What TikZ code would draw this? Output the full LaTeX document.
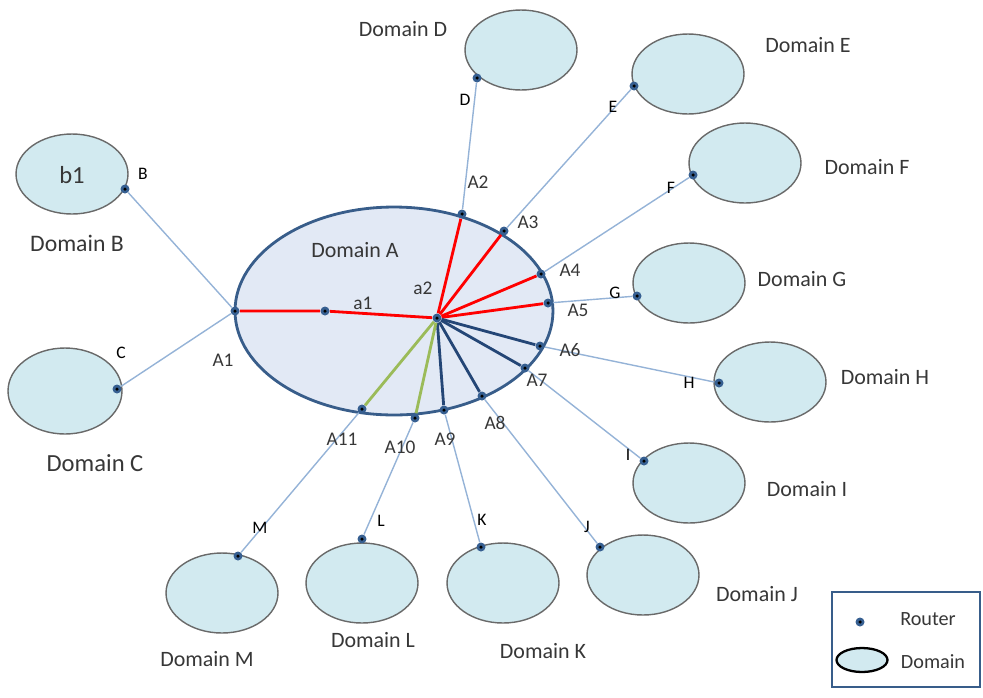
\documentclass[tikz,border=0pt]{standalone}
\usepackage{fontspec}
\setmainfont{Carlito}
\usetikzlibrary{shapes.geometric}

\definecolor{domfill}{RGB}{210,234,240}
\definecolor{domline}{RGB}{105,105,105}
\definecolor{afill}{RGB}{226,233,245}
\definecolor{aline}{RGB}{56,93,138}
\definecolor{linkblue}{RGB}{149,179,215}
\definecolor{routerblue}{RGB}{54,95,145}
\definecolor{darklink}{RGB}{36,70,118}
\definecolor{greenlink}{RGB}{155,187,89}
\definecolor{textgray}{RGB}{55,55,55}

\tikzset{
  dombox/.style={ellipse, draw=domline, fill=domfill, line width=0.8pt,
    minimum width=2.24cm, minimum height=1.6cm, inner sep=0pt},
  router/.style={circle, fill=routerblue, inner sep=0pt, minimum size=0.18cm,
    path picture={\fill[black] (path picture bounding box.center) circle (0.035cm);}},
  uplink/.style={draw=linkblue, line width=0.8pt},
  redlink/.style={draw=red, line width=1.6pt},
  bluelink/.style={draw=darklink, line width=1.6pt},
  greenlink/.style={draw=greenlink, line width=1.6pt},
  lbl/.style={font=\fontsize{11}{12}\selectfont, text=textgray, inner sep=0pt},
  letter/.style={font=\fontsize{10}{11}\selectfont, text=black, inner sep=0pt},
  domname/.style={font=\fontsize{12.5}{14}\selectfont, text=textgray, inner sep=0pt}
}

\begin{document}
\begin{tikzpicture}[x=0.02cm, y=-0.02cm]
  \useasboundingbox (0,0) rectangle (983,697);

  % domains
  \node[ellipse, draw=aline, fill=afill, line width=1.6pt, minimum width=6.36cm,
    minimum height=4.16cm, inner sep=0pt] (dA) at (394,311) {};
  \node[dombox] (dB) at (72,174) {};
  \node[dombox, minimum width=2.28cm, minimum height=1.72cm] (dC) at (65,391) {};
  \node[dombox] (dD) at (521,50) {};
  \node[dombox] (dE) at (688,74) {};
  \node[dombox] (dF) at (745,163) {};
  \node[dombox] (dG) at (689,283) {};
  \node[dombox] (dH) at (770,382) {};
  \node[dombox] (dI) at (689,483) {};
  \node[dombox] (dJ) at (643,575) {};
  \node[dombox] (dK) at (503,583) {};
  \node[dombox] (dL) at (362,583) {};
  \node[dombox] (dM) at (222,593) {};

  % routers of domain A
  \node[router] (A1) at (235,311) {};
  \node[router] (a1) at (325,311) {};
  \node[router] (a2) at (437,318) {};
  \node[router] (A2) at (462,214) {};
  \node[router] (A3) at (504,231) {};
  \node[router] (A4) at (541,274) {};
  \node[router] (A5) at (548,303) {};
  \node[router] (A6) at (540,346) {};
  \node[router] (A7) at (525,368) {};
  \node[router] (A8) at (482,396) {};
  \node[router] (A9) at (444,410) {};
  \node[router] (A10) at (415,418) {};
  \node[router] (A11) at (362,409) {};

  % border routers of the other domains
  \node[router] (rB) at (125,189) {};
  \node[router] (rC) at (117,389) {};
  \node[router] (rD) at (477,78) {};
  \node[router] (rE) at (634,86) {};
  \node[router] (rF) at (693,175) {};
  \node[router] (rG) at (637,296) {};
  \node[router] (rH) at (719,383) {};
  \node[router] (rI) at (644,461) {};
  \node[router] (rJ) at (600,547) {};
  \node[router] (rK) at (481,547) {};
  \node[router] (rL) at (362,539) {};
  \node[router] (rM) at (238,556) {};

  % inter-domain links
  \draw[uplink] (A1) -- (rB);
  \draw[uplink] (A1) -- (rC);
  \draw[uplink] (A2) -- (rD);
  \draw[uplink] (A3) -- (rE);
  \draw[uplink] (A4) -- (rF);
  \draw[uplink] (A5) -- (rG);
  \draw[uplink] (A6) -- (rH);
  \draw[uplink] (A7) -- (rI);
  \draw[uplink] (A8) -- (rJ);
  \draw[uplink] (A9) -- (rK);
  \draw[uplink] (A10) -- (rL);
  \draw[uplink] (A11) -- (rM);

  % paths inside domain A
  \draw[redlink] (A1) -- (a1) -- (a2);
  \foreach \r in {A2,A3,A4,A5} \draw[redlink] (a2) -- (\r);
  \foreach \r in {A6,A7,A8,A9} \draw[bluelink] (a2) -- (\r);
  \foreach \r in {A10,A11} \draw[greenlink] (a2) -- (\r);

  % router labels
  \node[lbl] (lA1) at (223,360) {A1};
  \node[lbl] (lA2) at (478,182) {A2};
  \node[lbl] (lA3) at (528,222) {A3};
  \node[lbl] (lA4) at (570,270) {A4};
  \node[lbl] (lA5) at (578,310) {A5};
  \node[lbl] (lA6) at (570,350) {A6};
  \node[lbl] (lA7) at (537,380) {A7};
  \node[lbl] (lA8) at (495,423) {A8};
  \node[lbl] (lA9) at (445,439) {A9};
  \node[lbl] (lA10) at (400,447) {A10};
  \node[lbl] (lA11) at (342,439) {A11};
  \node[lbl] (la1) at (363,303) {a1};
  \node[lbl] (la2) at (423,288) {a2};
  \node[letter] (lB) at (143,174) {B};
  \node[letter] (lC) at (121,353) {C};
  \node[letter] (lD) at (465,100) {D};
  \node[letter] (lE) at (613,107) {E};
  \node[letter] (lF) at (671,188) {F};
  \node[letter] (lG) at (615,293) {G};
  \node[letter] (lH) at (689,383) {H};
  \node[letter] (lI) at (628,455) {I};
  \node[letter] (lJ) at (587,527) {J};
  \node[letter] (lK) at (482,520) {K};
  \node[letter] (lL) at (381,521) {L};
  \node[letter] (lM) at (260,528) {M};

  % domain names
  \node[domname] (nA) at (355,250) {Domain A};
  \node[domname, font=\fontsize{13.5}{15}\selectfont] (nB) at (77,243) {Domain B};
  \node[domname, font=\fontsize{14}{16}\selectfont] (nC) at (95,463) {Domain C};
  \node[domname] (nD) at (403,29) {Domain D};
  \node[domname] (nE) at (808,45) {Domain E};
  \node[domname] (nF) at (867,167) {Domain F};
  \node[domname] (nG) at (802,279) {Domain G};
  \node[domname] (nH) at (885,377) {Domain H};
  \node[domname] (nI) at (807,489) {Domain I};
  \node[domname] (nJ) at (757,594) {Domain J};
  \node[domname] (nK) at (543,651) {Domain K};
  \node[domname] (nL) at (373,640) {Domain L};
  \node[domname] (nM) at (207,659) {Domain M};
  \node[domname, font=\fontsize{14}{16}\selectfont] (nb1) at (72,175) {b1};

  % legend
  \node[draw=aline, fill=white, line width=1.1pt, minimum width=2.96cm,
    minimum height=1.9cm, inner sep=0pt] (legend) at (906,639.5) {};
  \node[router] (legRouter) at (860,622) {};
  \node[lbl, font=\fontsize{11.5}{13}\selectfont] (legRouterText) at (928,619) {Router};
  \node[ellipse, draw=black, fill=domfill, line width=1.3pt, minimum width=1.02cm,
    minimum height=0.48cm, inner sep=0pt] (legDomain) at (862,660) {};
  \node[lbl, font=\fontsize{11.5}{13}\selectfont] (legDomainText) at (933,662) {Domain};
\end{tikzpicture}
\end{document}
